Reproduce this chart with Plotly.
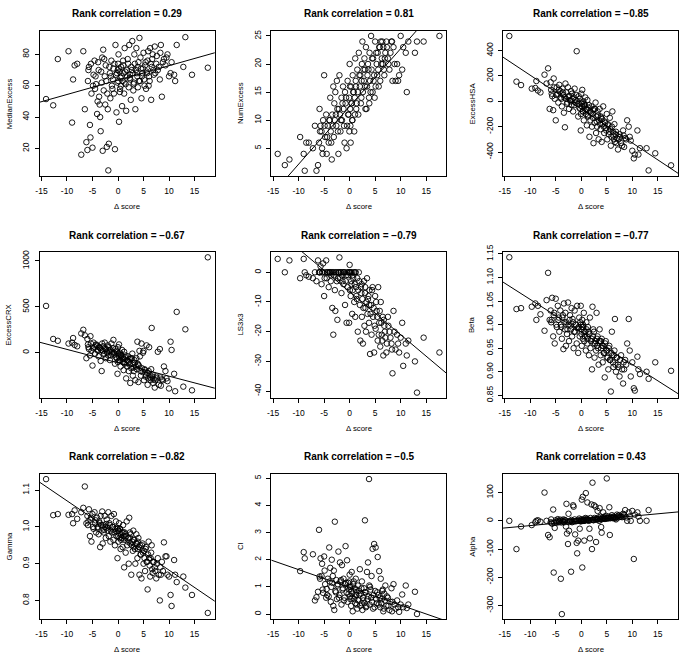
import plotly.graph_objects as go

# ---------------- data ----------------
delta_score = [
    -14.1, -12.7, -11.8, -9.7, -9.0, -8.8, -8.5, -8.0, -7.2, -6.8, -6.5, -6.2,
    -6.0, -5.9, -5.7, -5.5, -5.4, -5.2, -5.0, -4.8, -4.6, -4.5, -4.3, -4.1, -4.0,
    -3.8, -3.7, -3.5, -3.4, -3.2, -3.1, -3.0, -2.9, -2.8, -2.6, -2.5, -2.4,
    -2.2, -2.0, -1.9, -1.8, -1.6, -1.5, -1.3, -1.2, -1.0, -0.9, -0.8, -0.6, -0.5, -0.4,
    -0.3, -0.1, 0.0, 0.1, 0.2, 0.3, 0.4, 0.5, 0.6, 0.8, 0.9, 1.0, 1.1, 1.2, 1.3, 1.5,
    1.6, 1.7, 1.8, 2.0, 2.1, 2.2, 2.4, 2.5, 2.6, 2.8, 2.9, 3.0,
    3.1, 3.2, 3.4, 3.5, 3.6, 3.8, 3.9, 4.0, 4.2, 4.3, 4.5, 4.6, 4.8, 5.0, 5.1, 5.3,
    5.5, 5.6, 5.8, 6.0, 6.1, 6.3, 6.5, 6.6, 6.8, 7.0,
    7.2, 7.5, 7.8, 8.2, 8.4, 8.6, 9.0, 9.3, 9.7, 10.0, 10.3, 10.5, 11.0, 11.2, 11.5,
    12.8, 13.2, 14.5, 17.6,
    -5.8, -5.3, -4.9, -4.4, -3.9, -3.6, -3.3, -2.7, -2.3, -2.1,
    -1.7, -1.4, -1.1, -0.7, -0.2, 0.05, 0.15, 0.35, 0.7, 1.05,
    1.25, 1.4, 1.9, 2.3, 2.7, 3.05, 3.3, 3.7, 4.1, 4.4,
    4.7, 4.9, 5.2, 5.4, 5.7, 5.9, 6.2, 6.4, 6.7, 6.9,
    7.3, 7.6, 8.0, 8.3, 8.8, 9.5, 0.55, -0.05, 2.35, 3.85,
]

median_excess = [
    51.5, 47.5, 77, 82, 36.5, 64, 73, 74, 16, 82, 45, 24,
    19, 63, 72, 35, 27, 55, 20.5, 67, 76, 58, 61, 42, 50, 70, 53, 40, 31, 62, 78, 18.5, 83, 57, 66, 48, 73,
    21, 45, 6, 23, 68, 52, 76, 60, 64, 71, 55, 19.5, 86, 67, 43, 62, 74, 80, 37, 69, 58, 65, 72, 47, 63,
    76, 68, 55, 84, 61, 44, 70, 66, 74, 59, 86, 64, 51, 72, 88.5, 68, 57,
    62, 80, 45, 70, 84, 66, 59, 75, 90.5, 63, 71, 52, 68, 81, 64, 73, 58, 69, 76, 60, 66, 84, 51, 72, 80, 67,
    85, 74, 70, 64, 86, 53, 77, 73, 80, 66, 68, 75, 67, 63, 86, 72, 91, 67, 71.5,
    70, 74, 60, 66, 75, 48, 69, 77, 63, 55,
    72, 66, 58, 74, 68, 63, 71, 56, 66, 73,
    62, 69, 77, 65, 70, 61, 74, 68, 63, 78,
    66, 71, 60, 75, 68, 82, 63, 74, 77, 70,
    68, 79, 72, 81, 75, 78, 60, 70, 67, 72,
]

num_excess = [
    4, 2, 3, 7, 4, 1, 6, 6, 5, 9, 1, 2,
    6, 12, 9, 8, 5, 10, 18, 7, 11, 4, 9, 6, 10, 14, 8, 3, 11, 16, 7, 13, 10, 15, 9, 17, 12,
    4, 18, 11, 8, 14, 10, 16, 12, 6, 15, 13, 5, 9, 17, 11, 14, 20, 12, 6, 16, 13, 10, 18, 15, 8,
    14, 21, 17, 12, 19, 15, 11, 22, 16, 18, 13, 20, 24, 15, 17, 21, 19,
    12, 23, 16, 18, 20, 14, 22, 17, 25, 19, 15, 21, 18, 24, 16, 20, 22, 19, 23, 17, 24, 21, 20, 23, 18, 22,
    24, 21, 19, 24, 17, 23, 17, 20, 18, 25, 19, 23, 22, 15, 24, 22, 24, 24, 25,
    8, 4, 9, 7, 10, 6, 9, 11, 8, 12,
    10, 13, 9, 14, 11, 16, 9, 13, 15, 11,
    16, 13, 18, 14, 19, 16, 12, 19, 15, 21,
    17, 14, 22, 18, 16, 23, 20, 24, 19, 21,
    23, 20, 22, 24, 20, 17, 10, 8, 17, 13,
]

excess_hsa = [
    515, 155, 128, 100, 105, 160, 85, 70, 210, 140, 260, -60,
    150, 90, 40, -70, 180, 20, -150, 110, 60, -10, 130, 80, 30, -40, 100, 50, -90, -205, 140, 20, 70, -20, 110, 40, -60,
    10, 80, -30, 60, -80, 30, 100, -10, 50, 395, 0, -120, 40, -50, 20, -230, 60, -20, 90, -80, 0,
    -150, -40, 30, -100, -60, -190, 10, -120, -30, -280, -80, -150, -40, -200, -100, -330, -60, -170, -10, -250, -120,
    -200, -80, -300, -150, -60, -220, -130, -320, -180, -40, -250, -160, -210, -100, -300, -190, -240, -130, -350, -200,
    -80, -270, -180, -320, -240, -290,
    -380, -260, -330, -230, -360, -290, -150, -200, -310, -390, -450, -420, -230, -420, -370, -370, -545, -410, -505,
    60, 110, 50, 90, 20, 70, 30, -10, 40, 0,
    20, -30, 10, -20, -60, -10, -40, -80, -30, -70,
    -110, -50, -90, -130, -60, -160, -110, -180, -140, -200,
    -170, -230, -180, -260, -220, -280, -240, -300, -260, -330,
    -300, -280, -350, -270, -300, -280, -20, -100, -70, -120,
]

excess_crx = [
    510, 150, 130, 100, 110, 160, 85, 70, 210, 250, 190, -60,
    150, 90, 40, -30, 180, 20, -140, 110, 60, -10, 90, 80, 30, -40, 60, 50, -90, -200, 100, 20, 70, -20, 110, 40, -60,
    10, 80, -30, 60, -80, 30, 100, -10, 50, 140, 0, -120, 40, -50, 20, -230, 60, -20, 90, -80, 0,
    -150, -40, 30, -100, -60, -190, 10, -120, -30, -280, -80, -150, -40, -200, -100, -330, -60, -170, -10, -250, -120,
    -200, -80, -300, -150, -60, 120, -130, -320, 20, -40, -250, 100, -210, 20, -300, -190, -240, 80, -350, -200,
    60, -270, -180, 270, -240, -290,
    -380, -260, 10, 40, -360, -290, -150, -200, -310, -390, 120, 30, -230, -420, 445, -370, 255, -410, 1040,
    60, 100, 50, 80, 20, 60, 30, -10, 40, 0,
    20, -30, 10, -20, -60, -10, -40, -80, -30, -70,
    -110, -50, -90, -130, -60, -160, -110, -180, -140, -200,
    -170, 0, -180, -260, -220, -280, -240, -300, -260, -330,
    -300, -280, -350, -270, -300, -280, -20, -100, -70, -120,
]

ls3x3 = [
    4.5, 0, 4, -2, 4.5, 0, -1, -1.5, -2, 0, -3, 4,
    0, 0, 2, -4, 0, 3, -8, 0, 4, -2, 0, -5, 0, 0, -3, 0, -12, -21, 0, -1, -6, -13, 0, -3, -16,
    0, 5, -2, 0, -7, -1, 0, -4, 0, -11, -3, -17, 0, -5, -1, -17, 2.5, 0, -8, -3, 0,
    -14, -6, 0, -10, -4, -15, 0, -8, -2, -20, -6, 0, -11, -23, -5, -15, -9, -24, -3, -18, -7,
    -12, -20, -2, -14, -9, -17, -6, -27.5, -11, -21, -5, -15, -27, -8, -19, -13, -23, -5, -17, -25,
    -10, -21, -15, -28, -18, -22,
    -27, -15, -20, -24, -34, -13, -26, -21, -27, -22, -17, -31.5, -24, -28, -23, -30, -40.5, -22, -27,
    0, 0, -2, 0, 0, -1, 0, 0, -2, 0,
    0, -3, 0, -1, 0, -6, 0, -4, -2, 0,
    -5, -9, -3, -7, -12, -5, -10, -8, -14, -6,
    -12, -18, -10, -15, -21, -13, -17, -23, -16, -20,
    -24, -18, -22, -26, -20, -24, -1, 0, -4, -11,
]

beta = [
    1.143, 1.033, 1.035, 1.038, 1.045, 1.010, 1.040, 1.022, 0.987, 1.052, 1.110, 1.010,
    1.030, 1.005, 1.057, 0.975, 1.020, 0.960, 1.055, 0.995, 1.040, 1.010, 0.985, 1.030, 1.000,
    0.970, 1.015, 0.948, 1.045, 0.990, 1.025, 0.955, 1.005, 0.980, 1.047, 1.000, 0.965,
    1.020, 0.990, 1.035, 0.975, 1.005, 0.950, 1.030, 0.985, 1.000, 0.960, 1.040, 0.940, 0.995,
    1.015, 0.975, 1.040, 0.990, 0.955, 1.010, 0.970, 0.995, 1.025, 0.965, 0.985, 0.945, 1.005,
    0.975, 0.960, 0.995, 0.935, 0.980, 1.015, 0.950, 0.970, 0.905, 1.038, 0.960, 0.985, 0.930,
    0.965, 0.945, 1.025,
    0.955, 0.975, 0.915, 0.965, 0.990, 0.935, 0.950, 0.970, 0.920, 0.955, 0.940, 0.888, 0.965,
    0.930, 0.945, 0.905, 0.955, 0.925, 0.858, 0.985, 0.935, 0.910, 0.945, 1.012, 0.900, 0.930,
    0.915, 0.890, 0.935, 0.875, 0.905, 0.925, 0.960, 1.012, 0.890, 0.920, 0.865, 0.860, 0.932,
    0.905, 0.895, 0.900, 0.885, 0.920, 0.902,
    1.010, 1.025, 1.000, 1.015, 0.995, 1.020, 1.005, 0.990, 1.010, 0.998,
    1.012, 0.985, 1.000, 0.992, 1.005, 0.980, 0.995, 1.000, 0.975, 0.990,
    0.970, 0.985, 0.965, 0.975, 0.960, 0.970, 0.950, 0.965, 0.955, 0.940,
    0.960, 0.945, 0.930, 0.950, 0.925, 0.940, 0.920, 0.935, 0.915, 0.930,
    0.910, 0.925, 0.905, 0.920, 0.915, 0.945, 0.985, 1.000, 0.990, 0.965,
]

gamma = [
    1.130, 1.032, 1.035, 1.033, 1.035, 1.010, 1.045, 1.022, 1.040, 1.052, 1.110, 1.010,
    1.030, 1.005, 1.048, 0.975, 1.020, 0.960, 1.035, 0.995, 1.040, 1.010, 0.985, 1.025, 1.000,
    0.980, 1.015, 0.945, 1.030, 0.990, 1.042, 0.955, 1.005, 0.985, 1.030, 1.000, 0.970,
    1.020, 0.990, 1.040, 0.975, 1.005, 0.960, 1.030, 0.985, 1.000, 0.965, 1.035, 0.950, 0.995,
    1.015, 0.975, 0.915, 0.990, 0.960, 1.010, 0.970, 0.995, 0.940, 0.965, 0.985, 0.945, 1.005,
    0.975, 0.890, 0.985, 0.930, 0.975, 1.015, 0.950, 0.970, 0.900, 1.025, 0.955, 0.980, 0.870,
    0.960, 0.935, 0.990,
    0.945, 0.965, 0.900, 0.955, 0.980, 0.915, 0.940, 0.970, 0.870, 0.950, 0.925, 0.860, 0.955,
    0.900, 0.935, 0.880, 0.945, 0.905, 0.830, 0.960, 0.915, 0.865, 0.930, 0.950, 0.875, 0.905,
    0.890, 0.860, 0.915, 0.800, 0.870, 0.905, 0.958, 0.920, 0.870, 0.865, 0.815, 0.785, 0.910,
    0.870, 0.850, 0.865, 0.835, 0.815, 0.766,
    1.015, 1.025, 1.000, 1.018, 0.995, 1.010, 1.005, 0.992, 1.008, 0.998,
    1.010, 0.990, 1.000, 0.985, 0.998, 0.975, 0.990, 0.995, 0.970, 0.985,
    0.965, 0.980, 0.960, 0.970, 0.950, 0.965, 0.940, 0.955, 0.945, 0.925,
    0.950, 0.930, 0.915, 0.940, 0.905, 0.925, 0.895, 0.915, 0.885, 0.905,
    0.880, 0.900, 0.870, 0.890, 0.880, 0.920, 0.980, 0.995, 0.985, 0.960,
]

ci = [
    None, None, None, 1.58, 2.28, 2.05, None, None, 2.2, 0.5, 0.62, 0.82,
    3.1, 1.38, 2.05, 1.4, 1.85, 0.78, 2.12, 1.1, 0.6, 0.92, 1.3, 0.65, 2.45, 1.7, 0.45, 2.0,
    1.15, 0.3, 1.6, 0.15, 3.4, 0.85, 1.25, 0.55, 1.05,
    2.3, 0.7, 1.9, 1.2, 0.35, 1.8, 0.95, 1.3, 0.6, 1.1, 2.5, 0.8, 1.98, 0.45, 1.15, 0.9, 1.45,
    0.65, 1.0, 0.3, 1.55, 0.75, 0.1, 1.2, 0.55, 0.95, 0.4, 1.3, 0.7, 0.2, 1.05, 0.5, 0.85, 1.65,
    0.3, 0.75, 1.2, 0.15, 0.6, 0.95, 0.4, 3.45,
    0.8, 0.25, 1.55, 0.55, 1.9, 4.97, 0.35, 1.0, 0.6, 1.4, 2.4, 0.2, 2.58, 0.85, 2.45, 0.4, 2.1,
    0.7, 1.58, 0.25, 1.3, 0.55, 0.9, 0.1, 0.75, 1.05,
    0.3, 0.6, 0.15, 0.95, 0.45, 1.1, 0.2, 0.5, 0.08, 0.35, 0.72, 0.25, 1.05, 0.22, 0.35, 0.82,
    0.0, None, None,
    1.3, 0.9, 1.6, 0.7, 1.2, 1.0, 1.4, 0.8, 1.1, 0.6,
    1.25, 0.9, 0.5, 1.15, 0.75, 1.0, 0.55, 0.85, 1.1, 0.65,
    0.9, 0.35, 0.7, 0.95, 0.5, 0.8, 0.3, 0.65, 0.9, 0.45,
    0.7, 0.25, 0.55, 0.8, 0.35, 0.6, 0.4, 0.85, 0.2, 0.5,
    0.65, 0.3, 0.45, 0.1, 0.35, 0.25, 0.6, 1.2, 0.4, 1.05,
]

alpha = [
    0, -100, -20, -15, -5, 0, 2, -3, 100, 0, -50, -58,
    -5, 5, -10, 40, -183, -25, 2, -3, 6, 0, -2, 4, -205, -330, 0, 5, -2, 3, 1, -20, 60, -45,
    -82, 25, -35,
    0, -180, 3, -5, 55, 50, 5, -48, 0, -78, -115, -70, 2, 8, -28, 0, 5, 75, -165, 85, 5, 0,
    -70, 10, 98, 5, 8, 65, 3, 0, -28, -62, 10, 58, -100, 135, 2, 55, 10, 50, -75, 8,
    5, 35, 12, 0, 45, 15, -22, -42, 10, 30, 12, 7, 18, 150, 10, 15, 48, -50, 14, 20, 10, 15,
    12, 8, 5, 22,
    18, 20, 15, 25, 22, 38, 0, 30, 0, 35, -135, 22, 30, 15, 0, 0, 38, None, None,
    -8, -6, -7, -5, -6, -4, -5, -3, -4, -2,
    -3, -1, -2, 0, -1, 1, 0, 2, 1, 3,
    2, 4, 3, 5, 4, 6, 5, 7, 6, 8,
    7, 9, 8, 10, 9, 11, 10, 12, 11, 13,
    12, 14, 13, 15, 12, 16, 0, -2, 3, 5,
]

panel_labels = ["MedianExcess", "NumExcess", "ExcessHSA", "ExcessCRX", "LS3x3",
                "Beta", "Gamma", "CI", "Alpha"]
panel_values = [median_excess, num_excess, excess_hsa, excess_crx, ls3x3,
                beta, gamma, ci, alpha]
rank_corr = ["0.29", "0.81", "\u22120.85", "\u22120.67", "\u22120.79",
             "\u22120.77", "\u22120.82", "\u22120.5", "0.43"]
fit_intercept = [63.6, 12.45, -61.3, -110.0, -6.57, 0.9844, 0.9768, 0.982, -0.13]
fit_slope = [0.919, 1.029, -26.7, -14.6, -1.445, -0.006906, -0.00943, -0.0653, 1.668]

x_ticks = [-15, -10, -5, 0, 5, 10, 15]
y_ticks = [
    [20, 40, 60, 80],
    [5, 10, 15, 20, 25],
    [-400, -200, 0, 200, 400],
    [0, 500, 1000],
    [-40, -30, -20, -10, 0],
    [0.85, 0.90, 0.95, 1.00, 1.05, 1.10, 1.15],
    [0.8, 0.9, 1.0, 1.1],
    [0, 1, 2, 3, 4, 5],
    [-300, -200, -100, 0, 100],
]
y_tick_text = [
    ["20", "40", "60", "80"],
    ["5", "10", "15", "20", "25"],
    ["-400", "-200", "0", "200", "400"],
    ["0", "500", "1000"],
    ["-40", "-30", "-20", "-10", "0"],
    ["0.85", "0.90", "0.95", "1.00", "1.05", "1.10", "1.15"],
    ["0.8", "0.9", "1.0", "1.1"],
    ["0", "1", "2", "3", "4", "5"],
    ["-300", "-200", "-100", "0", "100"],
]

# ---------------- layout geometry ----------------
W, H = 679, 659
col_left = [36, 269, 502]
box_w = 176
row_top = [23, 249, 475]
box_h = 148.5
x_range = [-15.33, 18.96]
y_ranges = [
    [2.35, 95.2], [0.04, 25.96], [-590, 558],
    [-490, 1097], [-42.2, 6.8], [0.845, 1.154],
    [0.749, 1.145], [-0.19, 5.17], [-348, 167],
]

FONT = "Liberation Sans, Arial, Helvetica, sans-serif"

fig = go.Figure()
annotations = []
layout_axes = {}

for i in range(9):
    r, c = divmod(i, 3)
    sfx = "" if i == 0 else str(i + 1)
    xa, ya = "x" + sfx, "y" + sfx
    left = col_left[c]
    top = row_top[r]
    xd = [left / W, (left + box_w) / W]
    yd = [1 - (top + box_h) / H, 1 - top / H]

    fig.add_trace(go.Scatter(
        x=delta_score, y=panel_values[i], mode="markers",
        marker=dict(symbol="circle-open", size=5.5, color="black",
                    line=dict(width=0.9, color="black")),
        xaxis=xa, yaxis=ya, showlegend=False, hoverinfo="x+y",
    ))
    lx = [x_range[0] - 5, x_range[1] + 5]
    ly = [fit_intercept[i] + fit_slope[i] * v for v in lx]
    fig.add_trace(go.Scatter(
        x=lx, y=ly, mode="lines", line=dict(color="black", width=1),
        xaxis=xa, yaxis=ya, showlegend=False, hoverinfo="skip",
    ))

    common = dict(showline=True, mirror=True, linecolor="black", linewidth=1,
                  ticks="outside", ticklen=4, tickwidth=1, tickcolor="black",
                  showgrid=False, zeroline=False,
                  tickfont=dict(family=FONT, size=8.5, color="black"))
    layout_axes["xaxis" + sfx] = dict(
        domain=xd, range=x_range, anchor=ya, tickmode="array",
        tickvals=x_ticks, ticktext=[str(t) for t in x_ticks],
        ticklabelstandoff=3, **common)
    layout_axes["yaxis" + sfx] = dict(
        domain=yd, range=y_ranges[i], anchor=xa, tickmode="array",
        tickvals=y_ticks[i], ticktext=y_tick_text[i], tickangle=-90,
        ticklabelstandoff=2, **common)

    cx = (left + box_w / 2) / W
    annotations.append(dict(
        text="<b>Rank correlation = " + rank_corr[i] + "</b>",
        x=cx, y=1 - (top - 17) / H, xref="paper", yref="paper",
        xanchor="center", yanchor="middle", showarrow=False,
        font=dict(family=FONT, size=10, color="black")))
    annotations.append(dict(
        text="\u0394 score", x=cx, y=1 - (top + box_h + 31) / H,
        xref="paper", yref="paper", xanchor="center", yanchor="middle",
        showarrow=False, font=dict(family=FONT, size=7.8, color="black")))
    annotations.append(dict(
        text=panel_labels[i], x=(left - 31) / W, y=1 - (top + box_h / 2) / H,
        xref="paper", yref="paper", xanchor="center", yanchor="middle",
        textangle=-90, showarrow=False,
        font=dict(family=FONT, size=7.8, color="black")))

fig.update_layout(
    width=W, height=H, margin=dict(l=0, r=0, t=0, b=0),
    paper_bgcolor="white", plot_bgcolor="white",
    annotations=annotations, **layout_axes,
)

fig.write_html("out.html", config={"displayModeBar": False},
               post_script="document.body.style.margin='0';document.body.style.overflow='hidden';")
